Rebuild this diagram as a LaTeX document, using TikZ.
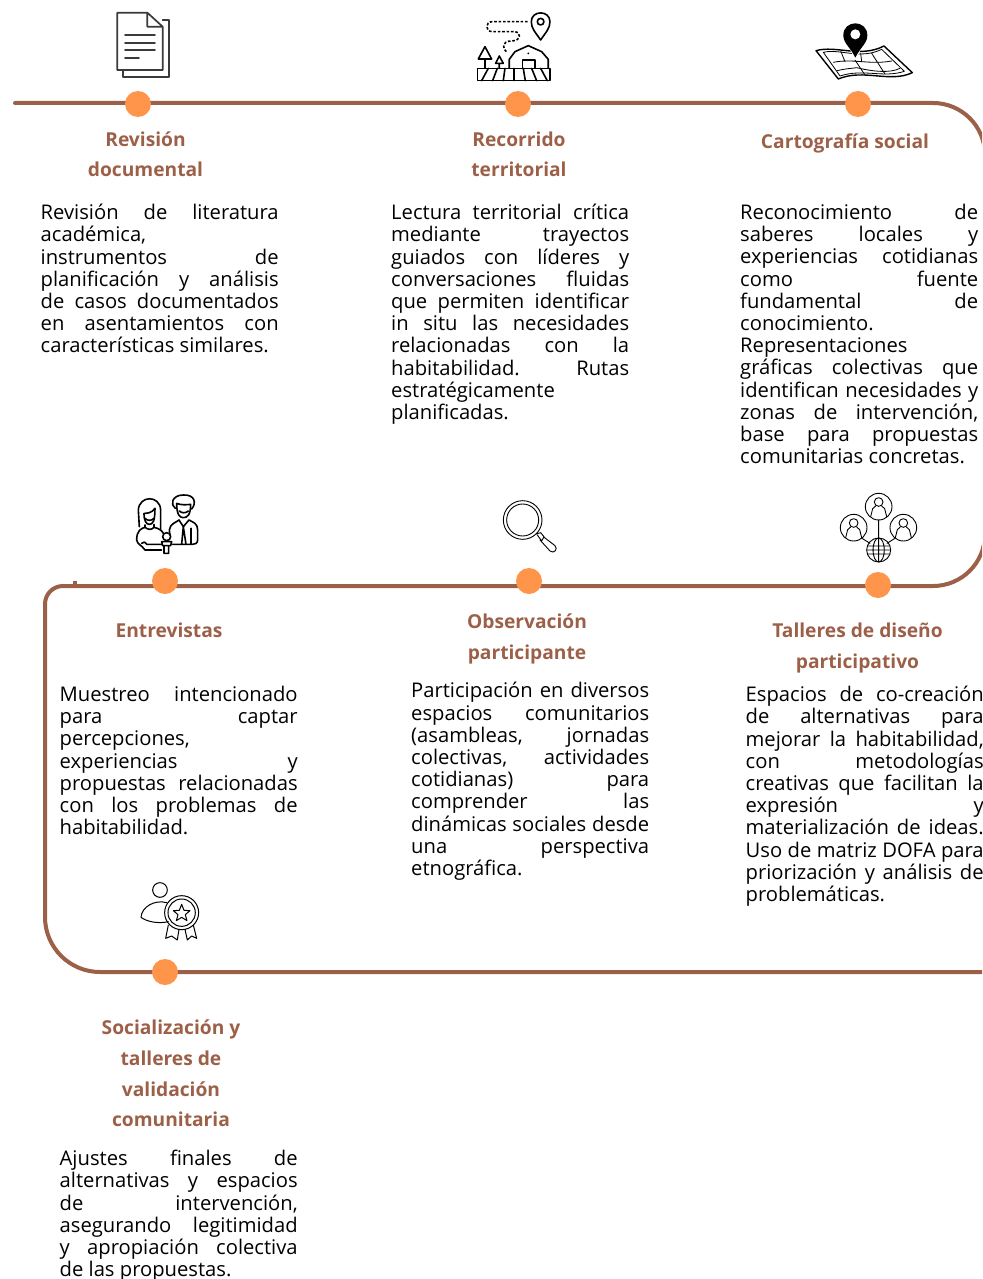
\documentclass[tikz,border=0pt]{standalone}
\usepackage{fontspec}
\setmainfont{Open Sans}
\usetikzlibrary{shapes.geometric}
\definecolor{lineb}{HTML}{9C6049}
\definecolor{dotc}{HTML}{FF954A}
\definecolor{titc}{HTML}{9C6049}
\definecolor{icong}{HTML}{3A3A3A}
\newcommand\J[1]{\hbox to 238pt{\rule{0pt}{15pt}\spaceskip=.26em plus 1fil\relax #1}}
\newcommand\Lz[1]{\hbox{\rule{0pt}{15pt}#1}}
\tikzset{
  x=1pt,y=-1pt,
  trail/.style={draw=lineb,line width=4pt,line cap=round},
  stopdot/.style={circle,fill=dotc,draw=none,minimum size=26pt,inner sep=0pt},
  heading/.style={inner sep=0pt,align=center,text=titc,font=\fontsize{19.2}{30.7}\selectfont\bfseries,anchor=base},
  bodytext/.style={inner sep=0pt,anchor=north west,font=\fontsize{20.2}{22.2}\selectfont},
  ic/.style={line width=1.6pt,line cap=round,line join=round},
}
\begin{document}
\begin{tikzpicture}
\clip (0,0) rectangle (982,1279);
% trail
\coordinate (s) at (15,103);
\coordinate (c1) at (985,103);
\coordinate (c2) at (985,586);
\coordinate (c3) at (45,586);
\coordinate (c4) at (45,972);
\coordinate (e) at (990,972);
\coordinate (m1) at (500,586);
\coordinate (m2) at (45,750);
\draw[trail,rounded corners=52pt] (s) -- (c1) -- (c2) -- (m1);
\draw[trail,rounded corners=18pt] (m1) -- (c3) -- (m2);
\draw[trail,rounded corners=55pt] (m2) -- (c4) -- (e);
\coordinate (t1) at (75,580.5);
\coordinate (t2) at (75,586);
\draw[draw=lineb,line width=3.5pt] (t1) -- (t2);
% stops
\node[stopdot] (d1) at (138,104) {};
\node[stopdot] (d2) at (518,104) {};
\node[stopdot] (d3) at (858,104) {};
\node[stopdot] (d4) at (165,581) {};
\node[stopdot] (d5) at (529,581) {};
\node[stopdot] (d6) at (878,585) {};
\node[stopdot] (d7) at (165,972) {};
% headings
\node[heading] (h1) at (145.5,176.7) {Revisión\\documental};
\node[heading] (h2) at (519,176.7) {Recorrido\\territorial};
\node[heading] (h3) at (845,148) {Cartografía social};
\node[heading] (h4) at (169,637) {Entrevistas};
\node[heading] (h5) at (527,659) {Observación\\participante};
\node[heading] (h6) at (857.5,668) {Talleres de diseño\\participativo};
\node[heading] (h7) at (171,1126.7) {Socialización y\\talleres de\\validación\\comunitaria};
% bodies
\node[bodytext] (b1) at (40.5,204) {\vbox{\J{Revisión de literatura}\Lz{académica,}\J{instrumentos de}\J{planificación y análisis}\J{de casos documentados}\J{en asentamientos con}\Lz{características similares.}}};
\node[bodytext] (b2) at (391,204) {\vbox{\J{Lectura territorial crítica}\J{mediante trayectos}\J{guiados con líderes y}\J{conversaciones fluidas}\J{que permiten identificar}\J{in situ las necesidades}\J{relacionadas con la}\J{habitabilidad. Rutas}\Lz{estratégicamente}\Lz{planificadas.}}};
\node[bodytext] (b3) at (740,204) {\vbox{\J{Reconocimiento de}\J{saberes locales y}\J{experiencias cotidianas}\J{como fuente}\J{fundamental de}\Lz{conocimiento.}\Lz{Representaciones}\J{gráficas colectivas que}\J{identifican necesidades y}\J{zonas de intervención,}\J{base para propuestas}\Lz{comunitarias concretas.}}};
\node[bodytext] (b4) at (59.5,686) {\vbox{\J{Muestreo intencionado}\J{para captar}\Lz{percepciones,}\J{experiencias y}\J{propuestas relacionadas}\J{con los problemas de}\Lz{habitabilidad.}}};
\node[bodytext] (b5) at (411,682.3) {\vbox{\J{Participación en diversos}\J{espacios comunitarios}\J{(asambleas, jornadas}\J{colectivas, actividades}\J{cotidianas) para}\J{comprender las}\J{dinámicas sociales desde}\J{una perspectiva}\Lz{etnográfica.}}};
\node[bodytext] (b6) at (745.5,686) {\vbox{\J{Espacios de co-creación}\J{de alternativas para}\J{mejorar la habitabilidad,}\J{con metodologías}\J{creativas que facilitan la}\J{expresión y}\J{materialización de ideas.}\J{Uso de matriz DOFA para}\J{priorización y análisis de}\Lz{problemáticas.}}};
\node[bodytext] (b7) at (59.5,1150) {\vbox{\J{Ajustes finales de}\J{alternativas y espacios}\J{de intervención,}\J{asegurando legitimidad}\J{y apropiación colectiva}\Lz{de las propuestas.}}};
% ---- icon 1: documents
\begin{scope}[shift={(90,0)},x=.3333pt,y=-.3333pt,ic,draw=icong,line width=1.7pt]
\draw (218,60) -- (238,60) -- (238,232) -- (100,232) -- (100,210);
\draw (172,38) -- (82,38) -- (82,210) -- (218,210) -- (218,80) -- (172,38) -- (172,80) -- (218,80);
\draw (105,106) -- (195,106) (105,128) -- (195,128) (105,150) -- (195,150) (105,173) -- (147,173);
\end{scope}
% ---- icon 2: territory
\begin{scope}[shift={(90,0)},x=.3333pt,y=-.3333pt,ic,line width=1.6pt]
\draw (1352,120) .. controls (1335,95) and (1324,85) .. (1324,65) .. controls (1324,30) and (1380,30) .. (1380,65) .. controls (1380,85) and (1369,95) .. (1352,120) -- cycle;
\draw (1352,65) circle (10);
\draw[dash pattern=on 2.6pt off 1.8pt,line cap=butt] (1313,65) -- (1207,65) .. controls (1185,65) and (1185,95) .. (1207,95) -- (1272,95) .. controls (1295,95) and (1295,123) .. (1265,123) .. controls (1235,123) and (1235,145) .. (1252,157);
\draw (1185,140) -- (1165,177) -- (1205,177) -- cycle (1185,177) -- (1185,205);
\draw (1228,168) -- (1217,190) -- (1240,190) -- cycle (1228,190) -- (1228,205);
\draw (1258,205) -- (1258,178) -- (1275,155) -- (1315,137) -- (1355,155) -- (1375,178) -- (1375,205);
\draw (1298,205) -- (1298,180) -- (1335,180) -- (1335,205);
\fill (1315,160) circle (3);
\draw (1163,205) rectangle (1380,242);
\draw (1195,205) -- (1175,242) (1222,205) -- (1208,242) (1245,205) -- (1240,242) (1272,205) -- (1272,242) (1300,205) -- (1306,242) (1325,205) -- (1340,242) (1352,205) -- (1372,242);
\end{scope}
% ---- icon 3: map
\begin{scope}[shift={(790,0)},x=.3333pt,y=-.3333pt,ic,line width=1pt]
\draw[line width=1.4pt] (78,152) .. controls (140,135) and (210,175) .. (282,138) -- (367,218) .. controls (300,250) and (220,205) .. (145,237) -- cycle;
\draw[line width=.8pt] (100,157) .. controls (150,145) and (210,180) .. (275,148) -- (343,214) .. controls (280,235) and (220,205) .. (150,228) -- cycle;
\draw[line width=.8pt] (130,187) .. controls (190,175) and (240,195) .. (305,183)
 (142,212) .. controls (170,205) and (190,205) .. (200,203) (200,203) .. controls (250,215) and (300,220) .. (330,205)
 (152,153) -- (165,185) (195,180) -- (225,225) (245,160) -- (285,222) (212,160) -- (215,185);
\fill[white] (196,180) -- (160,110) -- (232,110) -- cycle;
\fill (196,173) .. controls (180,140) and (160,130) .. (160,106) .. controls (160,58) and (232,58) .. (232,106) .. controls (232,130) and (212,140) .. (196,173) -- cycle;
\fill[white] (196,103) circle (15);
\end{scope}
% ---- icon 4: couple
\begin{scope}[shift={(30,485)},x=.3333pt,y=-.3333pt,ic]
\draw (328,125) -- (325,75) .. controls (328,30) and (390,30) .. (392,75) -- (392,135);
\draw (342,85) .. controls (342,110) and (350,118) .. (358,118) .. controls (368,118) and (375,110) .. (375,70) .. controls (365,85) and (350,85) .. (342,85);
\draw (345,100) .. controls (352,108) and (365,108) .. (372,100);
\draw (345,120) -- (345,127) .. controls (335,130) and (320,135) .. (320,165) .. controls (322,178) and (335,180) .. (345,195) -- (395,195);
\draw (372,118) -- (372,127) .. controls (385,130) and (395,135) .. (400,145);
\draw (345,127) .. controls (355,135) and (365,135) .. (372,127);
\draw (335,175) .. controls (340,170) and (345,170) .. (350,178) -- (395,178);
\draw (410,155) circle (12);
\draw (395,170) -- (425,170) -- (422,182) -- (398,182) -- cycle (402,182) -- (402,205) -- (416,205) -- (416,182);
\draw (436,70) .. controls (420,60) and (425,30) .. (460,30) .. controls (495,28) and (500,55) .. (485,72);
\draw (440,55) .. controls (440,90) and (450,98) .. (460,98) .. controls (472,98) and (482,90) .. (482,58) .. controls (470,60) and (450,60) .. (440,55);
\draw (448,78) .. controls (455,85) and (468,85) .. (475,78);
\draw (420,150) -- (418,135) .. controls (420,115) and (440,112) .. (447,105) -- (460,125) -- (477,105) .. controls (490,112) and (503,115) .. (503,135) -- (503,165) .. controls (503,175) and (495,178) .. (488,178) -- (428,178);
\draw (460,125) -- (455,178) (460,125) -- (468,178);
\draw (483,130) -- (483,178) -- (470,178);
\end{scope}
% ---- icon 5: magnifier
\begin{scope}[shift={(490,485)},x=.3333pt,y=-.3333pt,ic,line width=.9pt]
\draw (98,105) circle (58) (98,105) circle (48);
\draw (138,147) -- (152,143) -- (162,155) -- (155,168) -- (142,150);
\draw (160,155) -- (195,182) .. controls (205,192) and (192,208) .. (180,198) -- (150,165);
\end{scope}
% ---- icon 6: network
\begin{scope}[shift={(820,485)},x=.3333pt,y=-.3333pt,ic,line width=.9pt]
\foreach \cx/\cy in {176/65,101/128,250/128}{
 \begin{scope}[shift={(\cx,\cy)}]
 \draw (0,0) circle (40);
 \draw (0,-14) circle (13);
 \draw (-24,30) -- (-18,6) -- (-9,-2) (24,30) -- (18,6) -- (9,-2);
 \end{scope}}
\draw (176,105) -- (176,160) (126,160) -- (150,175) (225,160) -- (201,175);
\draw (176,195) circle (36);
\draw (176,195) ellipse (17 and 36) (176,159) -- (176,231) (142,183) -- (210,183) (142,207) -- (210,207) (140,195) -- (212,195);
\end{scope}
% ---- icon 7: award
\begin{scope}[shift={(30,870)},x=.3333pt,y=-.3333pt,ic,line width=1pt]
\draw (390,60) circle (22);
\draw (410,98) .. controls (375,88) and (335,110) .. (333,142) .. controls (350,155) and (385,162) .. (415,155);
\draw (455,128) circle (51) (455,128) circle (41);
\draw (455,103) -- (462,121) -- (480,122) -- (466,134) -- (471,152) -- (455,142) -- (439,152) -- (444,134) -- (430,122) -- (448,121) -- cycle;
\draw (415,165) -- (407,205) -- (425,198) -- (442,210) -- (447,178);
\draw (465,178) -- (472,210) -- (485,198) -- (500,205) -- (490,165);
\end{scope}
\end{tikzpicture}
\end{document}
